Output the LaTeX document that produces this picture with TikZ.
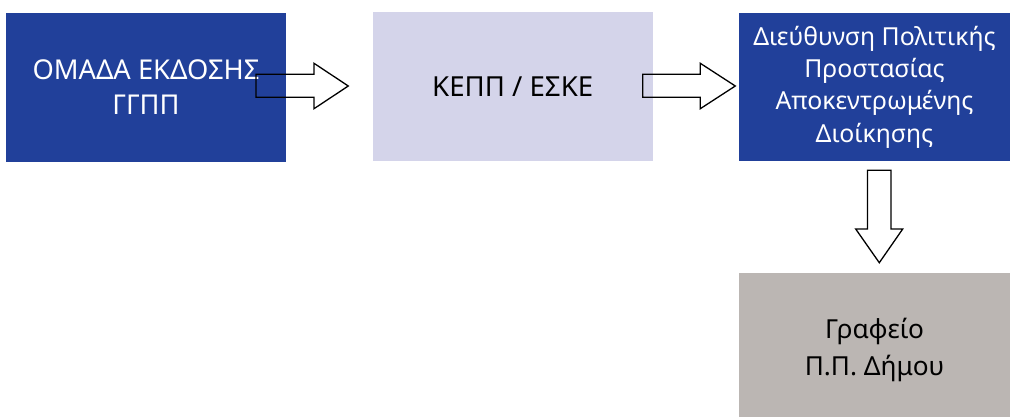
\documentclass[tikz,border=0pt]{standalone}
\usepackage{fontspec}
\setmainfont{Noto Sans}
\definecolor{dblue}{RGB}{33,64,154}
\definecolor{lav}{RGB}{212,212,234}
\definecolor{warmgray}{RGB}{187,182,179}
\begin{document}
\begin{tikzpicture}[x=1pt,y=-1pt,
  box/.style={rectangle, inner sep=0pt, align=center},
  darkbox/.style={box, fill=dblue, text=white},
  blockarrow/.style={draw=black, line width=1.3pt, line join=miter}]
\useasboundingbox (0,0) rectangle (1010,417);
\node[darkbox, minimum width=280pt, minimum height=149pt,
      font=\fontsize{27.3}{35}\selectfont] (b1) at (146,87.5) {ΟΜΑΔΑ ΕΚΔΟΣΗΣ\\ΓΓΠΠ};
\node[box, fill=lav, text=black, minimum width=280pt, minimum height=148.7pt,
      font=\fontsize{27.6}{32}\selectfont] (b2) at (512.7,86.35) {ΚΕΠΠ / ΕΣΚΕ};
\node[darkbox, minimum width=271pt, minimum height=148.7pt,
      font=\fontsize{24.8}{32.3}\selectfont] (b3) at (874.5,87)
      {Διεύθυνση Πολιτικής\\Προστασίας\\Αποκεντρωμένης\\Διοίκησης};
\node[box, fill=warmgray, minimum width=271pt, minimum height=144.3pt] (b4) at (874.5,344.85) {};
\node[box, text=black, font=\fontsize{26.2}{37}\selectfont] (b4text) at ([yshift=-5pt]b4.center)
      {Γραφείο\\Π.Π. Δήμου};
% block arrows
\draw[blockarrow] (256,74.3) -- (314,74.3) -- (314,63.3) -- (348.3,86) -- (314,108.7) -- (314,97.3) -- (256,97.3) -- cycle;
\draw[blockarrow] (642.7,74.3) -- (700.3,74.3) -- (700.3,63.3) -- (735.3,86) -- (700.3,108.7) -- (700.3,97.3) -- (642.7,97.3) -- cycle;
\draw[blockarrow] (867.5,170.3) -- (891,170.3) -- (891,229) -- (902.7,229) -- (879.3,262.7) -- (855.7,229) -- (867.5,229) -- cycle;
\end{tikzpicture}
\end{document}
